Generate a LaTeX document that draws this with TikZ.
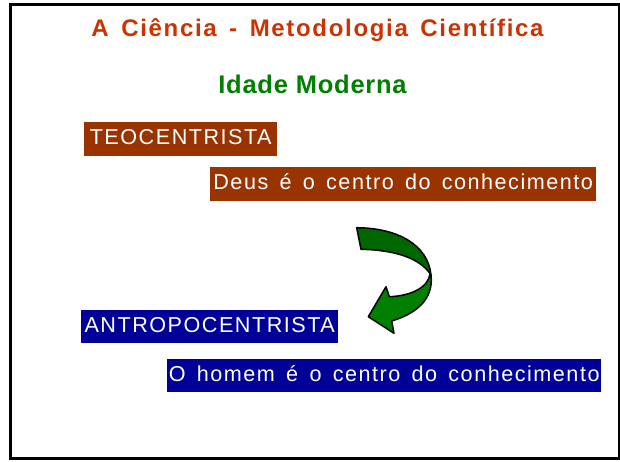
\documentclass[tikz,border=0pt]{standalone}
\usepackage{fontspec}
\setmainfont{Liberation Sans}
\newfontfamily\boxfont[LetterSpace=7,WordSpace=1.1]{Liberation Sans}
\newfontfamily\titlefont[LetterSpace=7,WordSpace=1.5]{Liberation Sans}
\newfontfamily\subfont[LetterSpace=3]{Liberation Sans}
\definecolor{titlered}{RGB}{204,51,0}
\definecolor{subgreen}{RGB}{0,128,0}
\definecolor{boxbrown}{RGB}{153,51,0}
\definecolor{boxblue}{RGB}{0,0,153}
\definecolor{arrowdark}{RGB}{0,102,0}
\definecolor{arrowlight}{RGB}{0,128,0}
\tikzset{
  labelbox/.style={anchor=north west, inner sep=0pt, text=white,
    font=\boxfont\fontsize{21.6}{26}\selectfont,
    text height=16pt, text depth=5pt},
  arrowpart/.style={draw=black, line width=1.5pt, line join=round}
}
\begin{document}
\begin{tikzpicture}[x=1pt,y=-1pt]
\fill[white] (0,0) rectangle (620,461);
\useasboundingbox (0,0) rectangle (620,461);
\draw[line width=2.7pt] (10.3,4.7) rectangle (619,458.8);
\node[anchor=base, inner sep=0pt, text=titlered,
  font=\titlefont\bfseries\fontsize{24}{28}\selectfont] (title) at (317.5,36.7)
  {A Ciência - Metodologia Científica};
\node[anchor=base, inner sep=0pt, text=subgreen,
  font=\subfont\bfseries\fontsize{25.5}{30}\selectfont] (sub) at (312.5,93.3)
  {Idade Moderna};
\node[labelbox, fill=boxbrown, minimum width=193pt, minimum height=34pt] (teo) at (84,122) {TEOCENTRISTA};
\node[labelbox, fill=boxbrown, minimum width=386pt, minimum height=34pt] (deus) at (210,167) {Deus é o centro do conhecimento};
\node[labelbox, fill=boxblue, minimum width=257pt, minimum height=33pt] (antro) at (81,310) {ANTROPOCENTRISTA};
\node[labelbox, fill=boxblue, minimum width=434pt, minimum height=33pt] (homem) at (167,359) {O homem é o centro do conhecimento};
% curved arrow
\path[arrowpart, fill=arrowdark] (356.7,227.7) .. controls (398,228) and (428,245) .. (431,275)
  .. controls (420,258) and (395,250) .. (361,249.3) -- cycle;
\path[arrowpart, fill=arrowlight] (430,274) .. controls (428,288) and (410,296) .. (389.3,296.7)
  -- (386,286.7) -- (368.3,316.7) -- (394,333.3) -- (391.7,321)
  .. controls (415,314) and (434,300) .. (431,275) -- cycle;
\end{tikzpicture}
\end{document}
